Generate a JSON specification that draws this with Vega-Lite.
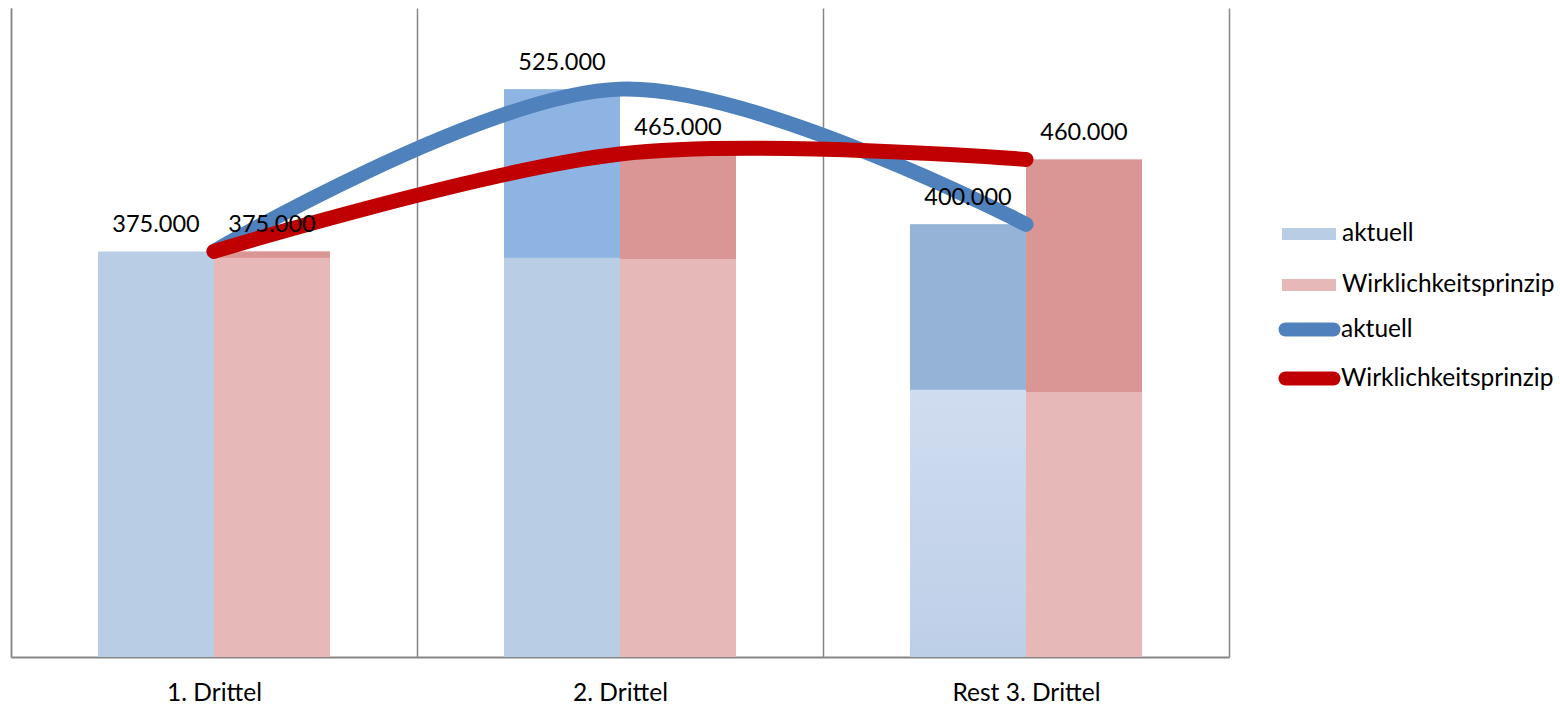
{
  "$schema": "https://vega.github.io/schema/vega-lite/v6.json",
  "width": 1218,
  "height": 649,
  "autosize": {"type": "none"},
  "padding": {"left": 11, "top": 8, "right": 331, "bottom": 47},
  "background": "#ffffff",
  "data": {
    "values": [
      {"kategorie": "1. Drittel", "serie": "aktuell", "wert": 375000, "schwelle": 375000},
      {"kategorie": "1. Drittel", "serie": "Wirklichkeitsprinzip", "wert": 375000, "schwelle": 369000},
      {"kategorie": "2. Drittel", "serie": "aktuell", "wert": 525000, "schwelle": 369000},
      {"kategorie": "2. Drittel", "serie": "Wirklichkeitsprinzip", "wert": 465000, "schwelle": 368000},
      {"kategorie": "Rest 3. Drittel", "serie": "aktuell", "wert": 400000, "schwelle": 247000},
      {"kategorie": "Rest 3. Drittel", "serie": "Wirklichkeitsprinzip", "wert": 460000, "schwelle": 245000}
    ]
  },
  "encoding": {
    "x": {
      "field": "kategorie",
      "type": "nominal",
      "sort": ["1. Drittel", "2. Drittel", "Rest 3. Drittel"],
      "scale": {"paddingInner": 0, "paddingOuter": 0},
      "axis": {
        "title": null,
        "labelAngle": 0,
        "labelFont": "Lato",
        "labelFontSize": 24.5,
        "labelColor": "#000000",
        "labelPadding": 24,
        "ticks": false,
        "grid": true,
        "tickBand": "extent",
        "gridColor": "#868686",
        "gridWidth": 1.5,
        "domainColor": "#868686",
        "domainWidth": 2
      }
    }
  },
  "layer": [
    {
      "mark": {"type": "bar"},
      "encoding": {
        "xOffset": {
          "field": "serie",
          "type": "nominal",
          "sort": ["aktuell", "Wirklichkeitsprinzip"],
          "scale": {"paddingInner": 0, "paddingOuter": 0.75}
        },
        "y": {
          "field": "wert",
          "type": "quantitative",
          "scale": {"domain": [0, 600000], "nice": false},
          "axis": {
            "title": null,
            "labels": false,
            "ticks": false,
            "grid": false,
            "domainColor": "#868686",
            "domainWidth": 1.5
          }
        },
        "fill": {
          "field": "serie",
          "type": "nominal",
          "scale": {"domain": ["aktuell", "Wirklichkeitsprinzip"], "range": ["#B9CDE5", "#E6B9B8"]},
          "condition": {
            "test": "datum.kategorie === 'Rest 3. Drittel' && datum.serie === 'aktuell'",
            "value": {
              "gradient": "linear", "x1": 0, "y1": 0, "x2": 0, "y2": 1,
              "stops": [{"offset": 0.38, "color": "#D0DCF0"}, {"offset": 1, "color": "#BDCFE7"}]
            }
          },
          "legend": {
            "title": null,
            "orient": "none",
            "legendX": 1284.5,
            "legendY": 212.5,
            "symbolType": "M-2,-0.44H2V0.44H-2Z",
            "symbolSize": 729,
            "symbolStrokeWidth": 0,
            "labelOffset": 19.5,
            "labelFont": "Lato",
            "labelFontSize": 24.5,
            "labelLimit": 0,
            "labelColor": "#000000",
            "rowPadding": 26
          }
        }
      }
    },
    {
      "mark": {"type": "bar"},
      "encoding": {
        "xOffset": {"field": "serie", "type": "nominal", "sort": ["aktuell", "Wirklichkeitsprinzip"]},
        "y": {"field": "schwelle", "type": "quantitative", "title": null},
        "y2": {"field": "wert"},
        "fill": {
          "field": "serie",
          "type": "nominal",
          "scale": {"domain": ["aktuell", "Wirklichkeitsprinzip"], "range": ["#8EB4E3", "#D99694"]},
          "condition": {
            "test": "datum.kategorie === 'Rest 3. Drittel' && datum.serie === 'aktuell'",
            "value": "#95B3D7"
          },
          "legend": null
        }
      }
    },
    {
      "mark": {"type": "line", "interpolate": "cardinal", "strokeWidth": 15, "strokeCap": "round", "strokeJoin": "round"},
      "encoding": {
        "y": {"field": "wert", "type": "quantitative", "title": null},
        "stroke": {
          "field": "serie",
          "type": "nominal",
          "scale": {"domain": ["aktuell", "Wirklichkeitsprinzip"], "range": ["#4F81BD", "#C00000"]},
          "legend": {
            "title": null,
            "orient": "none",
            "legendX": 1279.5,
            "legendY": 302.5,
            "symbolType": "M-2,0H2",
            "symbolSize": 576,
            "symbolStrokeWidth": 14,
            "labelOffset": 12.5,
            "labelFont": "Lato",
            "labelFontSize": 24.5,
            "labelLimit": 0,
            "labelColor": "#000000",
            "rowPadding": -7,
            "encode": {"symbols": {"update": {"strokeCap": {"value": "round"}}}}
          }
        }
      }
    },
    {
      "mark": {"type": "text", "font": "Lato", "fontSize": 23.5, "color": "#000000", "baseline": "middle", "dy": -26},
      "encoding": {
        "xOffset": {"field": "serie", "type": "nominal", "sort": ["aktuell", "Wirklichkeitsprinzip"]},
        "y": {"field": "wert", "type": "quantitative", "title": null},
        "text": {"field": "wert", "type": "quantitative", "format": ",.0f"}
      }
    }
  ],
  "resolve": {"scale": {"fill": "independent"}},
  "config": {
    "view": {"stroke": null},
    "locale": {"number": {"decimal": ",", "thousands": ".", "grouping": [3], "currency": ["", " €"]}}
  }
}
